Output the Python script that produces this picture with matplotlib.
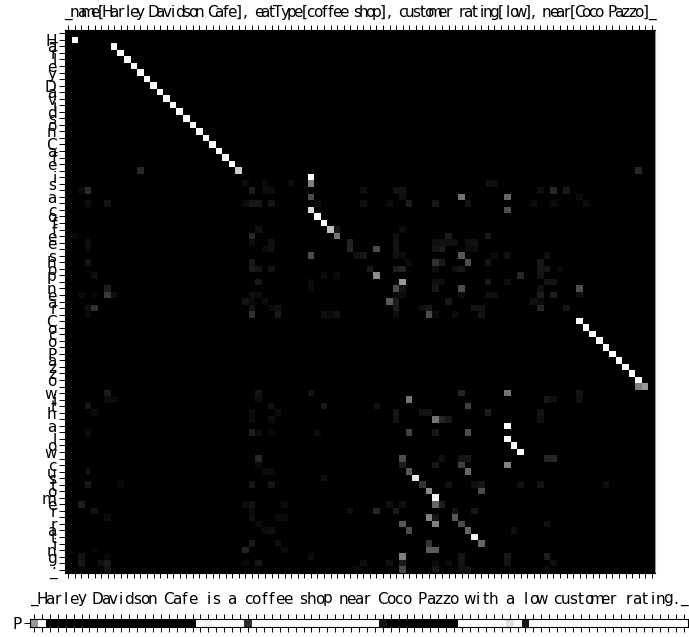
import numpy as np
import matplotlib
matplotlib.use("Agg")
import matplotlib.pyplot as plt

source = "_name[Harley Davidson Cafe], eatType[coffee shop], customer rating[low], near[Coco Pazzo]_"
target = "_Harley Davidson Cafe is a coffee shop near Coco Pazzo with a low customer rating._"

# generation probability per target char
p_gen = [0.6, 1] + [0] * 19 + [1, 0.96, 1, 1, 1, 1, 0.18] + [1] * 16 + [0.08] + [0] * 9 \
    + [1] * 6 + [0.88, 1, 0.1] + [1] * 20

# attention cells, (row, col, value)
strong_cells = [
    (1, 1, 1), (2, 7, 1), (3, 8, 1), (4, 9, 1), (5, 10, 1), (6, 11, 1), (7, 12, 1), (8, 13, 1),
    (9, 14, 1), (10, 15, 1), (11, 16, 1), (12, 17, 1), (13, 18, 1), (14, 19, 1), (15, 20, 1),
    (16, 21, 1), (17, 22, 1), (18, 23, 1), (19, 24, 1), (20, 25, 1), (21, 26, 0.8),
    (22, 37, 1), (23, 37, 0.5), (25, 37, 0.3), (27, 37, 0.85), (28, 38, 1), (29, 39, 1),
    (30, 40, 0.75), (31, 41, 0.45), (34, 37, 0.3),
    (44, 78, 1), (45, 79, 1), (46, 80, 1), (47, 81, 1), (48, 82, 1), (49, 83, 1), (50, 84, 1),
    (51, 85, 1), (52, 86, 1), (53, 87, 1), (54, 87, 0.5), (54, 88, 0.6),
    (60, 67, 1), (62, 67, 1), (63, 68, 1), (64, 69, 1), (66, 67, 0.5), (55, 67, 0.45),
    (25, 60, 0.45), (25, 67, 0.4), (27, 67, 0.3), (34, 60, 0.35), (35, 61, 0.3), (37, 47, 0.55),
    (38, 51, 0.6), (39, 50, 0.3), (39, 60, 0.3), (41, 49, 0.35), (43, 55, 0.3), (39, 78, 0.3),
    (33, 47, 0.3), (56, 52, 0.45), (65, 51, 0.3), (67, 52, 0.35), (68, 53, 0.9), (69, 54, 0.2),
    (70, 55, 0.55), (71, 56, 0.95), (72, 56, 0.4), (74, 55, 0.5), (75, 56, 0.5), (75, 51, 0.35),
    (76, 52, 0.3), (74, 59, 0.35), (75, 60, 0.3), (76, 61, 0.4), (77, 62, 0.95), (78, 63, 0.4),
    (78, 55, 0.2), (79, 55, 0.35), (79, 56, 0.35), (80, 51, 0.5), (66, 60, 0.25), (67, 61, 0.4),
    (70, 63, 0.3), (59, 56, 0.45), (61, 61, 0.3), (61, 52, 0.25), (57, 61, 0.25), (82, 51, 0.28),
]
weak_cells = [
    (21, 11, 0.15), (21, 87, 0.15),
    (23, 27, 0.045), (23, 30, 0.045), (23, 34, 0.045), (23, 64, 0.06), (23, 65, 0.06),
    (24, 2, 0.04), (24, 3, 0.17), (24, 28, 0.11), (24, 30, 0.05), (24, 31, 0.05), (24, 45, 0.06),
    (24, 50, 0.075), (24, 51, 0.075), (24, 72, 0.06), (24, 74, 0.15), (24, 76, 0.09),
    (25, 51, 0.06), (25, 78, 0.045),
    (26, 3, 0.05), (26, 6, 0.075), (26, 27, 0.04), (26, 28, 0.09), (26, 29, 0.09), (26, 31, 0.075),
    (26, 38, 0.045), (26, 45, 0.06), (26, 49, 0.045), (26, 52, 0.11), (26, 56, 0.09), (26, 61, 0.075),
    (26, 71, 0.045), (26, 74, 0.045), (26, 79, 0.045),
    (30, 29, 0.06), (30, 41, 0.09), (30, 51, 0.045),
    (31, 1, 0.04), (31, 28, 0.15), (31, 50, 0.06), (31, 58, 0.11), (31, 64, 0.09),
    (32, 3, 0.06), (32, 28, 0.045), (32, 31, 0.06), (32, 43, 0.14), (32, 50, 0.075), (32, 56, 0.06),
    (32, 57, 0.06), (32, 58, 0.06), (32, 59, 0.06), (32, 61, 0.06), (32, 62, 0.075),
    (33, 3, 0.04), (33, 30, 0.04), (33, 31, 0.06), (33, 43, 0.14), (33, 50, 0.075), (33, 56, 0.075),
    (33, 57, 0.11), (33, 61, 0.045), (33, 62, 0.045),
    (34, 44, 0.06), (34, 45, 0.09), (34, 50, 0.06), (34, 51, 0.045), (34, 65, 0.045), (34, 67, 0.06),
    (34, 73, 0.06),
    (35, 3, 0.075), (35, 28, 0.09), (35, 52, 0.045), (35, 56, 0.19), (35, 57, 0.09), (35, 64, 0.075),
    (35, 72, 0.09),
    (36, 28, 0.11), (36, 29, 0.075), (36, 31, 0.075), (36, 46, 0.09), (36, 50, 0.11), (36, 51, 0.14),
    (36, 56, 0.045), (36, 59, 0.06), (36, 60, 0.09), (36, 72, 0.09), (36, 73, 0.09), (36, 75, 0.045),
    (37, 4, 0.06), (37, 39, 0.045), (37, 41, 0.045), (37, 69, 0.15), (37, 72, 0.075),
    (38, 29, 0.09), (38, 37, 0.045), (38, 56, 0.06), (38, 57, 0.06), (38, 64, 0.1), (38, 67, 0.06),
    (38, 73, 0.075), (38, 74, 0.075),
    (39, 6, 0.11), (39, 37, 0.04), (39, 51, 0.075), (39, 56, 0.09), (39, 72, 0.06),
    (40, 2, 0.04), (40, 4, 0.03), (40, 6, 0.23), (40, 7, 0.06), (40, 28, 0.06), (40, 29, 0.04),
    (40, 50, 0.045), (40, 51, 0.045), (40, 60, 0.045), (40, 64, 0.06), (40, 65, 0.06), (40, 72, 0.11),
    (40, 74, 0.11), (40, 78, 0.06),
    (41, 27, 0.075), (41, 28, 0.04), (41, 30, 0.045), (41, 50, 0.11), (41, 58, 0.09), (41, 71, 0.06),
    (41, 72, 0.045),
    (42, 3, 0.06), (42, 4, 0.19), (42, 28, 0.075), (42, 31, 0.045), (42, 32, 0.06), (42, 50, 0.11),
    (42, 54, 0.06), (42, 55, 0.09), (42, 62, 0.075), (42, 63, 0.075), (42, 72, 0.15), (42, 76, 0.075),
    (43, 3, 0.04), (43, 28, 0.19), (43, 32, 0.09), (43, 39, 0.06), (43, 40, 0.04), (43, 41, 0.075),
    (43, 50, 0.045), (43, 56, 0.045), (43, 59, 0.045), (43, 63, 0.075),
    (55, 6, 0.11), (55, 29, 0.075), (55, 37, 0.075), (55, 60, 0.15), (55, 78, 0.075),
    (56, 6, 0.045), (56, 7, 0.045), (56, 29, 0.05), (56, 73, 0.09), (56, 74, 0.06), (56, 78, 0.06),
    (57, 3, 0.09), (57, 31, 0.06), (57, 39, 0.09), (57, 47, 0.06),
    (58, 4, 0.045), (58, 28, 0.04), (58, 32, 0.045), (58, 50, 0.09), (58, 54, 0.075), (58, 55, 0.075),
    (58, 64, 0.11), (58, 72, 0.075),
    (59, 28, 0.04), (59, 31, 0.05), (59, 50, 0.075), (59, 57, 0.15), (59, 58, 0.09), (59, 72, 0.06),
    (61, 3, 0.05), (61, 28, 0.11), (61, 29, 0.045), (61, 31, 0.03), (61, 38, 0.045), (61, 56, 0.09),
    (65, 29, 0.15), (65, 57, 0.06), (65, 60, 0.075), (65, 61, 0.09), (65, 73, 0.14), (65, 74, 0.15),
    (66, 29, 0.045), (66, 51, 0.11), (66, 56, 0.09),
    (67, 3, 0.06), (67, 30, 0.045), (67, 31, 0.045),
    (68, 39, 0.06),
    (69, 3, 0.09), (69, 8, 0.04), (69, 28, 0.09), (69, 31, 0.075), (69, 58, 0.06), (69, 62, 0.06),
    (69, 63, 0.09), (69, 69, 0.06), (69, 72, 0.075), (69, 82, 0.06),
    (72, 2, 0.11), (72, 27, 0.04), (72, 28, 0.075), (72, 33, 0.045), (72, 49, 0.06), (72, 51, 0.06),
    (72, 57, 0.11),
    (73, 4, 0.075), (73, 28, 0.045), (73, 43, 0.06), (73, 47, 0.15), (73, 50, 0.11), (73, 59, 0.075),
    (73, 62, 0.09),
    (74, 6, 0.05), (74, 28, 0.06), (74, 32, 0.045), (74, 33, 0.045), (74, 56, 0.09),
    (75, 29, 0.04), (75, 73, 0.06),
    (76, 30, 0.045), (76, 31, 0.06), (76, 68, 0.06),
    (78, 28, 0.09), (78, 32, 0.06),
    (79, 4, 0.03), (79, 27, 0.14), (79, 33, 0.04),
    (80, 2, 0.075), (80, 6, 0.03), (80, 37, 0.05), (80, 60, 0.09), (80, 67, 0.09), (80, 73, 0.11),
    (81, 2, 0.09), (81, 5, 0.06), (81, 6, 0.1), (81, 27, 0.04), (81, 29, 0.09), (81, 45, 0.06),
    (81, 49, 0.06), (81, 51, 0.11), (81, 56, 0.04), (81, 58, 0.04), (81, 60, 0.075), (81, 67, 0.075),
    (81, 74, 0.06),
    (82, 2, 0.03), (82, 6, 0.075), (82, 44, 0.04), (82, 56, 0.09), (82, 60, 0.06), (82, 61, 0.075),
    (82, 73, 0.045),
]

W, H = 689, 637


def px_axes(fig, left, top, right, bottom):
    return fig.add_axes([left / W, 1 - bottom / H, (right - left) / W, (bottom - top) / H])


attn = np.zeros((len(target), len(source)))
for r, c, v in strong_cells + weak_cells:
    attn[r, c] = v

plt.rcParams["font.size"] = 11

fig = plt.figure(figsize=(W / 100, H / 100), dpi=100)

ax = px_axes(fig, 65, 30, 655, 573)
ax.imshow(attn, cmap="gray", vmin=0, vmax=1, aspect="auto", interpolation="nearest")
ax.set_xticks(range(len(source)))
ax.set_xticklabels(list(source))
ax.set_yticks(range(len(target)))
ax.set_yticklabels(list(target))
ax.tick_params(axis="x", top=True, bottom=True, labeltop=True, labelbottom=False, length=3.5, pad=3.5, width=0.7)
ax.tick_params(axis="y", length=4.5, pad=1.5, width=0.7)
ax.spines["right"].set_color("#999999")

ax2 = px_axes(fig, 30, 619, 688, 627)
ax2.imshow(np.array(p_gen).reshape(1, -1), cmap="gray", vmin=0, vmax=1, aspect="auto", interpolation="nearest")
ax2.set_xticks(range(len(target)))
ax2.set_xticklabels(list(target))
ax2.set_yticks([0])
ax2.set_yticklabels(["P"])
ax2.tick_params(axis="x", top=True, bottom=True, labeltop=True, labelbottom=False, length=3.5, pad=5.5, width=0.7)
ax2.tick_params(axis="y", length=4.5, pad=1.5, width=0.7)

fig.savefig("out.png", dpi=100)
